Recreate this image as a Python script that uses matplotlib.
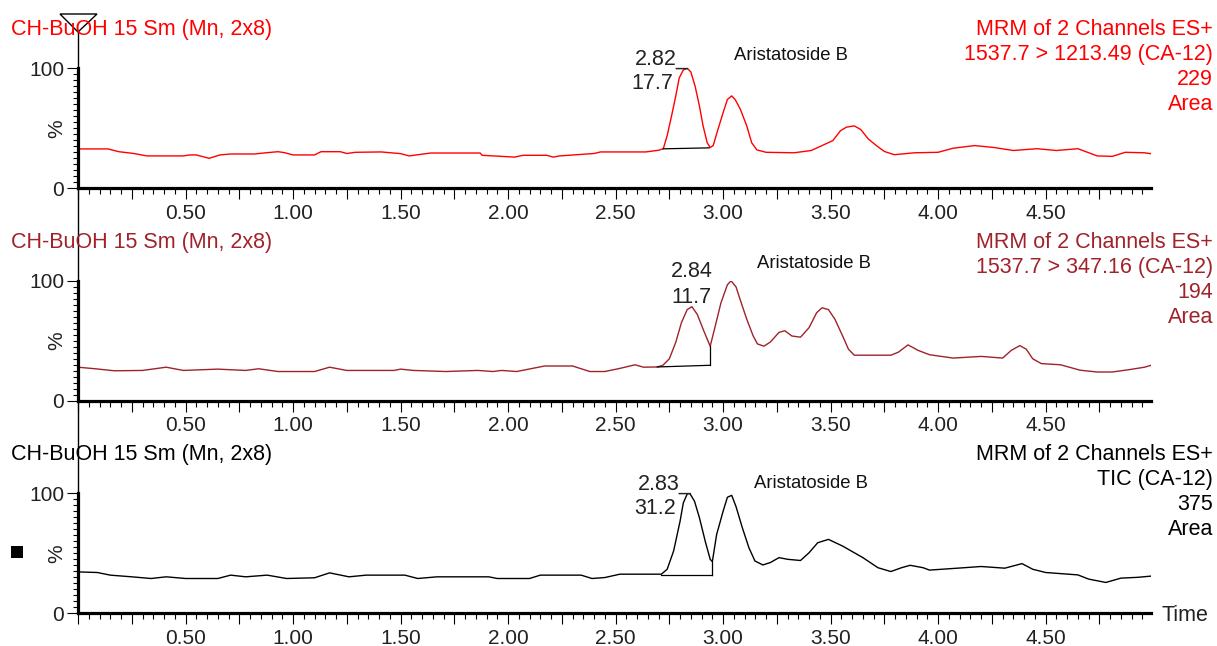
import matplotlib
matplotlib.use('Agg')
import matplotlib.pyplot as plt
import numpy as np
from matplotlib.lines import Line2D
from matplotlib.patches import Polygon, Rectangle
from matplotlib.ticker import MultipleLocator, FuncFormatter, FixedLocator

plt.rcParams['font.family'] = ['Liberation Sans', 'DejaVu Sans']

# ---------------- data ----------------
t_ch1 = [0.00, 0.14, 0.19, 0.26, 0.32, 0.49, 0.52, 0.55, 0.61, 0.66, 0.71, 0.82, 0.88, 0.93, 0.96,
         1.00, 1.10, 1.13, 1.22, 1.25, 1.29, 1.41, 1.50, 1.54, 1.64, 1.87, 1.88, 2.03, 2.07, 2.18,
         2.21, 2.24, 2.40, 2.43, 2.64, 2.70, 2.722, 2.74, 2.76, 2.78, 2.796, 2.815, 2.833, 2.85,
         2.87, 2.89, 2.907, 2.926, 2.94, 2.954, 2.972, 3.00, 3.02, 3.04, 3.056, 3.08, 3.11, 3.133,
         3.157, 3.20, 3.33, 3.41, 3.46, 3.51, 3.546, 3.574, 3.61, 3.64, 3.676, 3.713, 3.75, 3.796,
         3.89, 4.00, 4.07, 4.17, 4.26, 4.35, 4.46, 4.55, 4.65, 4.74, 4.81, 4.87, 4.96, 4.99]
y_ch1 = [32.8, 32.8, 30.5, 29.0, 27.0, 27.0, 27.8, 27.8, 25.0, 27.8, 28.6, 28.6, 29.7, 30.5, 29.7,
         27.8, 27.8, 30.5, 30.5, 29.0, 30.0, 30.3, 28.9, 27.0, 29.4, 29.4, 27.5, 26.0, 27.5, 27.5,
         26.0, 27.0, 29.0, 30.3, 30.3, 31.7, 33.0, 44.0, 60.0, 77.0, 92.0, 98.6, 100.0, 97.0,
         85.0, 68.5, 52.0, 38.0, 34.0, 35.6, 46.6, 63.0, 74.0, 77.0, 74.0, 66.0, 52.0, 38.0,
         32.0, 30.0, 29.6, 31.5, 35.6, 39.7, 48.0, 51.0, 52.0, 49.0, 41.0, 35.6, 30.7, 28.0,
         29.6, 30.0, 33.4, 35.6, 34.0, 31.5, 33.0, 31.5, 33.0, 27.0, 26.6, 30.0, 29.6, 28.8]

t_ch2 = [0.00, 0.08, 0.17, 0.30, 0.41, 0.49, 0.65, 0.78, 0.84, 0.93, 1.10, 1.17, 1.25, 1.47, 1.50,
         1.56, 1.71, 1.86, 1.93, 1.97, 2.04, 2.17, 2.30, 2.38, 2.45, 2.52, 2.59, 2.63, 2.694, 2.72,
         2.75, 2.78, 2.806, 2.833, 2.855, 2.88, 2.907, 2.94, 2.96, 2.99, 3.02, 3.037, 3.06, 3.08,
         3.11, 3.14, 3.16, 3.19, 3.22, 3.26, 3.287, 3.32, 3.36, 3.40, 3.435, 3.46, 3.49, 3.52,
         3.556, 3.583, 3.61, 3.78, 3.815, 3.86, 3.907, 3.96, 4.07, 4.20, 4.30, 4.34, 4.38, 4.41,
         4.44, 4.48, 4.57, 4.66, 4.74, 4.81, 4.89, 4.96, 4.99]
y_ch2 = [28.0, 26.7, 25.0, 25.3, 28.0, 25.3, 26.4, 25.3, 26.7, 24.4, 24.4, 28.0, 25.3, 25.3, 26.4,
         25.3, 24.4, 25.3, 24.4, 25.3, 24.4, 29.0, 29.0, 24.4, 24.4, 27.0, 30.0, 28.0, 28.2, 29.6,
         35.0, 48.8, 65.0, 76.0, 78.4, 72.0, 59.7, 45.5, 59.7, 81.6, 96.7, 100.0, 95.0, 84.0,
         68.0, 54.0, 47.4, 45.5, 49.0, 57.0, 58.4, 54.0, 53.0, 61.0, 73.4, 77.5, 76.0, 68.0,
         54.0, 43.0, 38.0, 38.0, 40.5, 46.6, 42.0, 38.4, 35.6, 37.0, 35.6, 42.0, 46.0, 43.0,
         35.0, 31.0, 30.0, 25.5, 24.0, 24.0, 26.0, 28.0, 29.6]

t_tic = [0.00, 0.09, 0.15, 0.25, 0.34, 0.41, 0.50, 0.65, 0.71, 0.78, 0.88, 0.97, 1.10, 1.17, 1.26,
         1.34, 1.52, 1.58, 1.67, 1.91, 1.95, 2.10, 2.15, 2.34, 2.39, 2.45, 2.52, 2.713, 2.74, 2.77,
         2.80, 2.815, 2.833, 2.845, 2.867, 2.89, 2.917, 2.94, 2.95, 2.97, 3.00, 3.02, 3.04, 3.06,
         3.09, 3.12, 3.148, 3.185, 3.22, 3.26, 3.30, 3.36, 3.40, 3.44, 3.49, 3.556, 3.65, 3.72,
         3.78, 3.83, 3.87, 3.93, 3.96, 4.09, 4.20, 4.31, 4.39, 4.44, 4.50, 4.65, 4.70, 4.78, 4.85,
         4.93, 4.99]
y_tic = [34.5, 34.0, 31.8, 30.4, 29.0, 30.4, 29.0, 29.0, 31.8, 30.4, 31.8, 29.0, 29.6, 33.7, 30.4,
         31.8, 31.8, 29.0, 30.4, 30.4, 29.0, 29.0, 31.8, 31.8, 29.0, 29.8, 32.6, 32.6, 36.7, 52.0,
         76.8, 92.0, 99.4, 100.0, 93.4, 79.6, 60.0, 45.0, 43.0, 65.7, 85.0, 96.7, 98.3, 89.0,
         71.0, 54.7, 43.6, 40.3, 42.3, 46.4, 45.0, 44.0, 50.5, 58.8, 61.6, 56.0, 46.4, 38.0,
         34.8, 38.0, 40.0, 38.0, 36.0, 37.6, 39.0, 37.6, 41.4, 36.7, 34.0, 32.0, 28.5, 25.7, 29.3,
         30.0, 31.0]

titles = ["CH-BuOH 15 Sm (Mn, 2x8)"] * 3
header_1 = ["MRM of 2 Channels ES+"] * 3
header_2 = ["1537.7 > 1213.49 (CA-12)", "1537.7 > 347.16 (CA-12)", "TIC (CA-12)"]
header_3 = ["229", "194", "375"]
header_4 = ["Area", "Area", "Area"]
compound = ["Aristatoside B"] * 3
peak_rt_label = ["2.82", "2.84", "2.83"]
peak_area_label = ["17.7", "11.7", "31.2"]
base_t0 = [2.722, 2.694, 2.713]
base_v0 = [32.9, 28.2, 32.0]
base_t1 = [2.935, 2.94, 2.95]
base_v1 = [33.7, 29.6, 32.0]
base_drop = [False, True, True]

traces = [(t_ch1, y_ch1), (t_ch2, y_ch2), (t_tic, y_tic)]
colors = ['#FF0000', '#A0222A', '#000000']

# ---------------- layout ----------------
W, H = 1217, 646
fig = plt.figure(figsize=(W / 100, H / 100), dpi=100)
fig.patch.set_facecolor('white')

X0, X1 = 78, 1151
Y0s = [188.3, 400.8, 613.3]
PH = 120.0
XMAX = 4.99


def fx(x):
    return x / W


def fy(y):
    return 1 - y / H


def fmt_x(v, pos):
    if v > 0.01 and abs(v / 0.5 - round(v / 0.5)) < 1e-6:
        return f"{v:.2f}"
    return ""


FS = 15.5
for i in range(3):
    y0 = Y0s[i]
    ax = fig.add_axes([fx(X0), fy(y0), (X1 - X0) / W, PH / H])
    ax.set_facecolor('none')
    t, v = traces[i]
    ax.plot(t, v, color=colors[i], lw=1.0)
    ax.set_xlim(0, XMAX)
    ax.set_ylim(0, 100)
    for s in ['top', 'right']:
        ax.spines[s].set_visible(False)
    for s in ['left', 'bottom']:
        ax.spines[s].set_linewidth(2.3)
        ax.spines[s].set_color('black')
    ax.xaxis.set_major_locator(MultipleLocator(0.25))
    ax.xaxis.set_minor_locator(MultipleLocator(0.05))
    ax.xaxis.set_major_formatter(FuncFormatter(fmt_x))
    ax.yaxis.set_major_locator(FixedLocator([0, 100]))
    ax.yaxis.set_minor_locator(MultipleLocator(5))
    ax.tick_params(axis='x', which='major', length=8, width=0.8, direction='out',
                   labelsize=15, pad=3, labelcolor='#222222')
    ax.tick_params(axis='x', which='minor', length=4.5, width=0.8, direction='out')
    ax.tick_params(axis='y', which='major', length=8, width=0.8, direction='out',
                   labelsize=15, pad=2, labelcolor='#222222')
    ax.tick_params(axis='y', which='minor', length=3.5, width=0.8, direction='out')

    # integration baseline
    ax.plot([base_t0[i], base_t1[i]], [base_v0[i], base_v1[i]], color='black', lw=0.9)
    if base_drop[i]:
        top = float(np.interp(base_t1[i], t, v))
        ax.plot([base_t1[i], base_t1[i]], [base_v1[i], top], color='black', lw=0.9)

    # peak labels
    ta = np.array(t)
    va = np.array(v)
    rt = float(peak_rt_label[i])
    m = (ta > rt - 0.05) & (ta < rt + 0.05)
    k = np.argmax(np.where(m, va, -1))
    pt, pv = ta[k], va[k]
    if i == 1:
        ax.annotate(peak_rt_label[i], xy=(pt, pv), xytext=(0, 30), textcoords='offset pixels',
                    ha='center', va='baseline', fontsize=FS, color='#222222', annotation_clip=False)
        ax.annotate(peak_area_label[i], xy=(pt, pv), xytext=(0, 4), textcoords='offset pixels',
                    ha='center', va='baseline', fontsize=FS, color='#222222', annotation_clip=False)
    else:
        ax.annotate(peak_rt_label[i] + "_", xy=(pt, pv), xytext=(2, 4), textcoords='offset pixels',
                    ha='right', va='baseline', fontsize=FS, color='#222222', annotation_clip=False)
        ax.annotate(peak_area_label[i], xy=(pt, pv), xytext=(-14, -21), textcoords='offset pixels',
                    ha='right', va='baseline', fontsize=FS, color='#222222', annotation_clip=False)

    # "%" label
    fig.text(fx(57), fy(y0 - PH / 2), "%", rotation=90, ha='center', va='center',
             fontsize=15, color='#222222')

    # thin axis extension above 100
    top_px = 32 if i == 0 else Y0s[i - 1]
    fig.add_artist(Line2D([fx(X0), fx(X0)], [fy(y0 - PH), fy(top_px)], color='black', lw=1.0))

    # titles
    base = y0 - 153
    fig.text(fx(11), fy(base), titles[i], ha='left', va='baseline', fontsize=FS, color=colors[i])
    rows = [header_1[i], header_2[i], header_3[i], header_4[i]]
    for j, r in enumerate(rows):
        fig.text(fx(1213), fy(base + j * 25), r, ha='right', va='baseline', fontsize=FS,
                 color=colors[i])

# compound names
cmp_pos = [(734, 60), (757, 268), (754, 488)]
for i, (px, py) in enumerate(cmp_pos):
    fig.text(fx(px), fy(py), compound[i], ha='left', va='baseline', fontsize=13.3, color='#111111')

# Time label
fig.text(fx(1161), fy(Y0s[2] + 2), "Time", ha='left', va='center', fontsize=FS, color='#222222')

# triangle marker at top of first panel
tri = Polygon([[fx(60), fy(14)], [fx(97), fy(14)], [fx(78), fy(32)]], closed=True,
              transform=fig.transFigure, facecolor='white', edgecolor='black', lw=1.0)
fig.add_artist(tri)

# black square marker
sq = Rectangle((fx(11), fy(558)), 12 / W, 12 / H, transform=fig.transFigure,
               facecolor='black', edgecolor='none')
fig.add_artist(sq)

fig.savefig('out.png', dpi=100, facecolor='white')
